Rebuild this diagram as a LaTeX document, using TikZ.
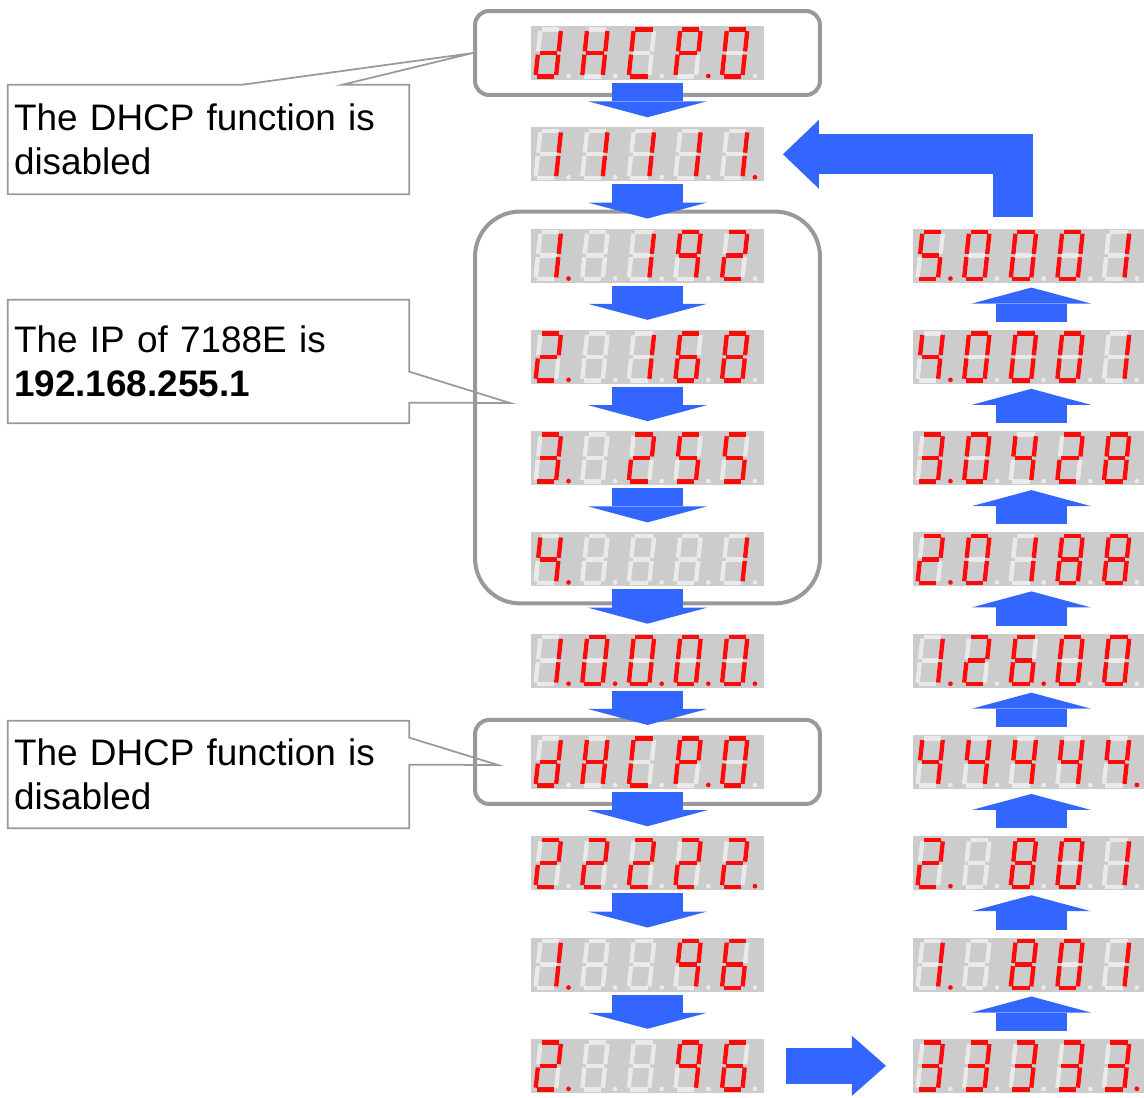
\documentclass[tikz,border=0pt]{standalone}
\usepackage{fontspec}
\setmainfont{Liberation Sans}
\usepackage{xcolor}
\definecolor{arrowBlue}{RGB}{51, 102, 255}
\definecolor{ledRed}{RGB}{255, 10, 10}
\definecolor{ledGhost}{RGB}{234, 234, 234}
\definecolor{lcdGray}{RGB}{204, 204, 204}
\definecolor{frameGray}{RGB}{153, 153, 153}
\usetikzlibrary{arrows.meta, positioning, calc, fit}
\tikzset{
    lcd/.style={fill=lcdGray, inner sep=0pt, outer sep=0pt, minimum width=4.66cm, minimum height=1.08cm},
    segOff/.style={color=ledGhost, line width=0.088cm, shorten <=0.032cm, shorten >=0.032cm},
    segOn/.style={segOff, color=ledRed},
    frame/.style={draw=frameGray, line width=0.08cm, inner xsep=1.12cm},
    note/.style={font=\fontsize{21pt}{25pt}\selectfont, text width=7.78cm, align=left, inner xsep=0.12cm, inner ysep=0pt},
    noteLine/.style={draw=frameGray, line width=0.035cm},
    blockArrow/.style={draw=arrowBlue, line width=1.42cm, -{Triangle[length=0.32cm, width=2.38cm, line width=0pt]}},
    bentArrow/.style={draw=arrowBlue, line width=0.8cm, line join=miter, -{Triangle[length=0.72cm, width=1.38cm, line width=0pt]}},
    sideArrow/.style={draw=arrowBlue, line width=0.72cm, -{Triangle[length=0.68cm, width=1.2cm, line width=0pt]}}
}

% seven segments of one cell (cell is 46.6 x 54, y runs down)
\newcommand{\lsega}[1]{\draw[#1] (9.5,3.5) -- (30,3.5);}
\newcommand{\lsegb}[1]{\draw[#1] (30,3.5) -- (27.5,27);}
\newcommand{\lsegc}[1]{\draw[#1] (27.5,27) -- (25,50.5);}
\newcommand{\lsegd}[1]{\draw[#1] (4.5,50.5) -- (25,50.5);}
\newcommand{\lsege}[1]{\draw[#1] (7,27) -- (4.5,50.5);}
\newcommand{\lsegf}[1]{\draw[#1] (9.5,3.5) -- (7,27);}
\newcommand{\lsegg}[1]{\draw[#1] (7,27) -- (27.5,27);}
\newcommand{\lsegp}[1]{\fill[#1] (37.5,50) circle[radius=0.048cm];}
\newcommand{\lsegn}[1]{}
\newcommand{\lsegx}[1]{}

% lit segments of each glyph
\newcommand{\defglyph}[2]{\expandafter\def\csname glyph#1\endcsname{#2}}
\defglyph{0}{a,b,c,d,e,f}
\defglyph{1}{b,c}
\defglyph{2}{a,b,g,e,d}
\defglyph{3}{a,b,g,c,d}
\defglyph{4}{f,g,b,c}
\defglyph{5}{a,f,g,c,d}
\defglyph{6}{a,f,g,e,d,c}
\defglyph{8}{a,b,c,d,e,f,g}
\defglyph{9}{a,b,c,f,g}
\defglyph{d}{b,c,d,e,g}
\defglyph{H}{b,c,e,f,g}
\defglyph{C}{a,d,e,f}
\defglyph{P}{a,b,e,f,g}
\defglyph{-}{x}

% #1 display node, #2 glyph/dot list
\newcommand{\ledDigits}[2]{%
    \foreach \glyphName/\dotMark [count=\i from 0] in {#2} {
        \begin{scope}[shift={($(#1.north west)+(\i*46.6,0)$)}]
            \foreach \s in {a,b,c,d,e,f,g,p} {\csname lseg\s\endcsname{segOff}}
            \edef\segList{\csname glyph\glyphName\endcsname}
            \foreach \s in \segList {\csname lseg\s\endcsname{segOn}}
            \csname lseg\dotMark\endcsname{segOn}
        \end{scope}
    }}

\begin{document}
\begin{tikzpicture}[x=0.02cm, y=-0.02cm]
    \useasboundingbox (0,0) rectangle (1144,1098);
    \clip (0,0) rectangle (1144,1098);

    % --- LEFT COLUMN ---
    \node[lcd] (lcdL1) at (647.5,53) {};
    \node[lcd, below=0.946cm of lcdL1] (lcdL2) {};
    \node[lcd, below=0.946cm of lcdL2] (lcdL3) {};
    \node[lcd, below=0.946cm of lcdL3] (lcdL4) {};
    \node[lcd, below=0.946cm of lcdL4] (lcdL5) {};
    \node[lcd, below=0.946cm of lcdL5] (lcdL6) {};
    \node[lcd, below=0.946cm of lcdL6] (lcdL7) {};
    \node[lcd, below=0.946cm of lcdL7] (lcdL8) {};
    \node[lcd, below=0.946cm of lcdL8] (lcdL9) {};
    \node[lcd, below=0.946cm of lcdL9] (lcdL10) {};
    \node[lcd, below=0.946cm of lcdL10] (lcdL11) {};

    \ledDigits{lcdL1}{d/n,H/n,C/n,P/p,0/n}
    \ledDigits{lcdL2}{1/n,1/n,1/n,1/n,1/p}
    \ledDigits{lcdL3}{1/p,-/n,1/n,9/n,2/n}
    \ledDigits{lcdL4}{2/p,-/n,1/n,6/n,8/n}
    \ledDigits{lcdL5}{3/p,-/n,2/n,5/n,5/n}
    \ledDigits{lcdL6}{4/p,-/n,-/n,-/n,1/n}
    \ledDigits{lcdL7}{1/p,0/p,0/p,0/p,0/p}
    \ledDigits{lcdL8}{d/n,H/n,C/n,P/p,0/n}
    \ledDigits{lcdL9}{2/n,2/n,2/n,2/n,2/p}
    \ledDigits{lcdL10}{1/p,-/n,-/n,9/n,6/n}
    \ledDigits{lcdL11}{2/p,-/n,-/n,9/n,6/n}

    % --- RIGHT COLUMN ---
    \node[lcd, right=2.98cm of lcdL3] (lcdR3) {};
    \node[lcd, below=0.946cm of lcdR3] (lcdR4) {};
    \node[lcd, below=0.946cm of lcdR4] (lcdR5) {};
    \node[lcd, below=0.946cm of lcdR5] (lcdR6) {};
    \node[lcd, below=0.946cm of lcdR6] (lcdR7) {};
    \node[lcd, below=0.946cm of lcdR7] (lcdR8) {};
    \node[lcd, below=0.946cm of lcdR8] (lcdR9) {};
    \node[lcd, below=0.946cm of lcdR9] (lcdR10) {};
    \node[lcd, below=0.946cm of lcdR10] (lcdR11) {};

    \ledDigits{lcdR3}{5/p,0/n,0/n,0/n,1/n}
    \ledDigits{lcdR4}{4/p,0/n,0/n,0/n,1/n}
    \ledDigits{lcdR5}{3/p,0/n,4/n,2/n,8/n}
    \ledDigits{lcdR6}{2/p,0/n,1/n,8/n,8/n}
    \ledDigits{lcdR7}{1/p,2/n,6/p,0/n,0/n}
    \ledDigits{lcdR8}{4/n,4/n,4/n,4/n,4/p}
    \ledDigits{lcdR9}{2/p,-/n,8/n,0/n,1/n}
    \ledDigits{lcdR10}{1/p,-/n,8/n,0/n,1/n}
    \ledDigits{lcdR11}{3/n,3/n,3/n,3/n,3/p}

    % --- FRAMES ---
    \node[frame, rounded corners=0.28cm, inner ysep=0.3cm, fit=(lcdL1)] (frameA) {};
    \node[frame, rounded corners=0.9cm, inner ysep=0.34cm, fit=(lcdL3) (lcdL6)] (frameB) {};
    \node[frame, rounded corners=0.28cm, inner ysep=0.3cm, fit=(lcdL8)] (frameC) {};

    % --- NOTES ---
    \node[note, minimum height=2.18cm] (noteA) at (208.5,139.5) {The DHCP function is\\disabled};
    \node[note, minimum height=2.46cm] (noteB) at (208.5,361.5) {The IP of 7188E is\\\textbf{192.168.255.1}};
    \node[note, minimum height=2.14cm] (noteC) at (208.5,774.5) {The DHCP function is\\disabled};
    \coordinate (tipB) at (510,403);
    \coordinate (tipC) at (498,765);

    \draw[noteLine] (noteA.north west) -- ($(noteA.north west)+(235,0)$) -- (frameA.west)
        -- ($(noteA.north west)+(335,0)$) -- (noteA.north east) |- (noteA.south west) -- cycle;
    \draw[noteLine] (noteB.north west) -- (noteB.north east) -- ($(noteB.north east)+(0,72)$) -- (tipB)
        -- ($(noteB.north east)+(0,103)$) |- (noteB.south west) -- cycle;
    \draw[noteLine] (noteC.north west) -- (noteC.north east) -- ($(noteC.north east)+(0,17)$) -- (tipC)
        -- ($(noteC.north east)+(0,44)$) |- (noteC.south west) -- cycle;

    % --- ARROWS ---
    \foreach \a/\b in {1/2,2/3,3/4,4/5,5/6,6/7,7/8,8/9,9/10,10/11}
        \draw[blockArrow] ($(lcdL\a.south)+(0,3)$) -- ($(lcdL\b.north)+(0,-10)$);
    \foreach \a/\b in {11/10,10/9,9/8,8/7,7/6,6/5,5/4,4/3}
        \draw[blockArrow] ($(lcdR\a.north)+(2,-8)$) -- ($(lcdR\b.south)+(2,5)$);
    \draw[sideArrow] ($(lcdL11.east)+(22,0)$) -- ($(lcdR11.west)+(-27,0)$);
    \draw[bentArrow] ($(lcdR3.north)+(-16.5,-12)$) |- ($(lcdL2.east)+(19,0)$);

\end{tikzpicture}
\end{document}
